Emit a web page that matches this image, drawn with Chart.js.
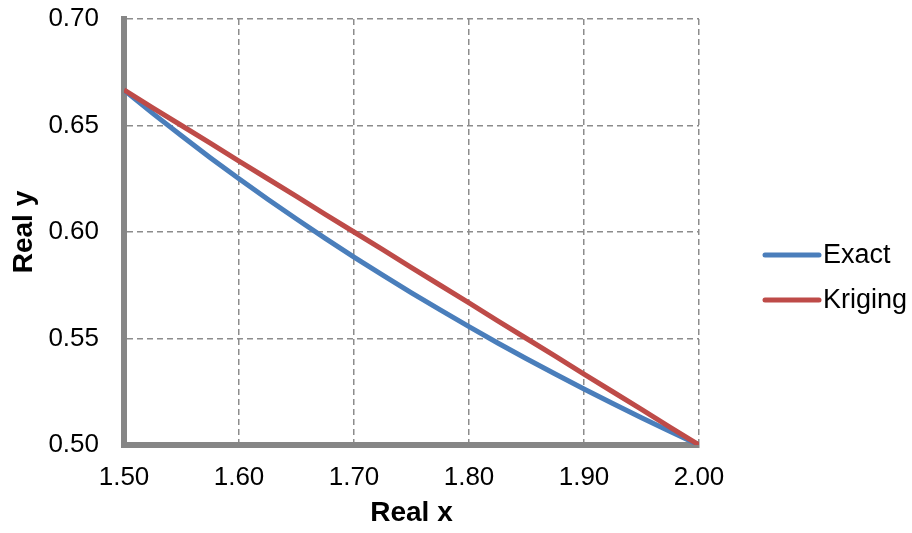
<!DOCTYPE html>
<html>
<head>
<meta charset="utf-8">
<script src="https://cdn.jsdelivr.net/npm/chart.js@4"></script>
<style>
  html, body { margin: 0; padding: 0; background: #ffffff; }
  canvas { display: block; }
</style>
</head>
<body>
<canvas id="c" width="912" height="533"></canvas>
<script>
const xValues = [1.500, 1.525, 1.550, 1.575, 1.600, 1.625, 1.650, 1.675, 1.700, 1.725, 1.750,
                 1.775, 1.800, 1.825, 1.850, 1.875, 1.900, 1.925, 1.950, 1.975, 2.000];
const exactValues = [0.6667, 0.6557, 0.6452, 0.6349, 0.6250, 0.6154, 0.6061, 0.5970, 0.5882, 0.5797, 0.5714,
                     0.5634, 0.5556, 0.5479, 0.5405, 0.5333, 0.5263, 0.5195, 0.5128, 0.5063, 0.5000];
const krigingValues = [0.6667, 0.6583, 0.6500, 0.6417, 0.6333, 0.6250, 0.6167, 0.6083, 0.6000, 0.5917, 0.5833,
                       0.5750, 0.5667, 0.5583, 0.5500, 0.5417, 0.5333, 0.5250, 0.5167, 0.5083, 0.5000];
const seriesNames = ['Exact', 'Kriging'];
const xTitle = 'Real x';
const yTitle = 'Real y';

const FONT = '"Liberation Sans", Arial, sans-serif';
const toPts = (xs, ys) => xs.map((x, i) => ({ x: x, y: ys[i] }));

const legendPlugin = {
  id: 'sideLegend',
  afterDraw(chart) {
    const ctx = chart.ctx;
    const area = chart.chartArea;
    const x0 = area.right + 66;
    const yStart = 255;
    const gap = 45;
    chart.data.datasets.forEach((ds, i) => {
      const y = yStart + i * gap;
      ctx.save();
      ctx.strokeStyle = ds.borderColor;
      ctx.lineWidth = 5;
      ctx.lineCap = 'round';
      ctx.beginPath();
      ctx.moveTo(x0, y);
      ctx.lineTo(x0 + 54, y);
      ctx.stroke();
      ctx.fillStyle = '#000000';
      ctx.font = '27px ' + FONT;
      ctx.textBaseline = 'middle';
      ctx.textAlign = 'left';
      ctx.fillText(ds.label, x0 + 58, y + 1);
      ctx.restore();
    });
  }
};

new Chart(document.getElementById('c'), {
  type: 'line',
  data: {
    datasets: [
      { label: seriesNames[0], data: toPts(xValues, exactValues), borderColor: '#4A7EBB', borderWidth: 5, pointRadius: 0, tension: 0, fill: false, order: 1 },
      { label: seriesNames[1], data: toPts(xValues, krigingValues), borderColor: '#BE4B48', borderWidth: 5, pointRadius: 0, tension: 0, fill: false, order: 0 }
    ]
  },
  options: {
    responsive: false,
    animation: false,
    events: [],
    layout: { padding: { top: 19, right: 213, left: 0, bottom: 0 } },
    plugins: { legend: { display: false }, tooltip: { enabled: false } },
    scales: {
      x: {
        type: 'linear',
        min: 1.5, max: 2.0,
        afterFit(s) { s.height = 88; s.paddingLeft = 0; s.paddingRight = 0; },
        ticks: { stepSize: 0.1, color: '#000000', font: { family: FONT, size: 26 }, padding: 17,
          callback: v => Number(v).toFixed(2) },
        grid: { color: '#8C8C8C', lineWidth: 1.5, drawTicks: false },
        border: { display: true, color: '#868686', width: 6, dash: [6, 4] },
        title: { display: true, text: xTitle, color: '#000000', font: { family: FONT, size: 28, weight: 'bold' }, padding: { top: 4, bottom: 3 } }
      },
      y: {
        min: 0.5, max: 0.7,
        afterFit(s) { s.width = 124; s.paddingTop = 0; s.paddingBottom = 0; },
        ticks: { stepSize: 0.05, color: '#000000', font: { family: FONT, size: 26 }, padding: 25,
          callback: v => Number(v).toFixed(2) },
        grid: { color: '#8C8C8C', lineWidth: 1.5, drawTicks: false },
        border: { display: true, color: '#868686', width: 6, dash: [6, 4] },
        title: { display: true, text: yTitle, color: '#000000', font: { family: FONT, size: 28, weight: 'bold' }, padding: { top: 7, bottom: 4 } }
      }
    }
  },
  plugins: [legendPlugin]
});
</script>
</body>
</html>
